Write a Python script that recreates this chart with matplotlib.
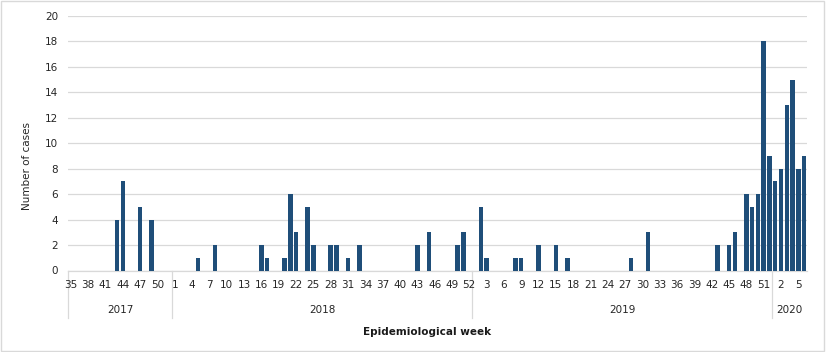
import matplotlib.pyplot as plt
from matplotlib.patches import Rectangle
from matplotlib.transforms import blended_transform_factory

# weekly case counts per year
weeks_2017 = list(range(35, 53))
cases_2017 = [0, 0, 0, 0, 0, 0, 0, 0, 4, 7, 0, 0, 5, 0, 4, 0, 0, 0]

weeks_2018 = list(range(1, 53))
cases_2018 = [0, 0, 0, 0, 1, 0, 0, 2, 0, 0, 0, 0, 0, 0, 0, 2, 1, 0, 0, 1,
              6, 3, 0, 5, 2, 0, 0, 2, 2, 0, 1, 0, 2, 0, 0, 0, 0, 0, 0, 0,
              0, 0, 2, 0, 3, 0, 0, 0, 0, 2, 3, 0]

weeks_2019 = list(range(1, 53))
cases_2019 = [0, 5, 1, 0, 0, 0, 0, 1, 1, 0, 0, 2, 0, 0, 2, 0, 1, 0, 0, 0,
              0, 0, 0, 0, 0, 0, 0, 1, 0, 0, 3, 0, 0, 0, 0, 0, 0, 0, 0, 0,
              0, 0, 2, 0, 2, 3, 0, 6, 5, 6, 18, 9]

weeks_2020 = list(range(1, 7))
cases_2020 = [7, 8, 13, 15, 8, 9]

years = ['2017', '2018', '2019', '2020']
groups = [(weeks_2017, cases_2017), (weeks_2018, cases_2018),
          (weeks_2019, cases_2019), (weeks_2020, cases_2020)]

weeks = []
cases = []
for w, c in groups:
    weeks += w
    cases += c
x = list(range(len(weeks)))

plt.rcParams['font.family'] = ['DejaVu Sans']
txt_color = '#262626'
grid_color = '#d9d9d9'

fig = plt.figure(figsize=(8.26, 3.52), dpi=100)
ax = fig.add_axes([68 / 826, 1 - 270.5 / 352, 739 / 826, 254.5 / 352])

ax.bar(x, cases, width=0.78, color='#1f4e79', zorder=3)

ax.set_xlim(-0.5, len(weeks) - 0.5)
ax.set_ylim(0, 20)
ax.set_yticks(range(0, 21, 2))
ax.yaxis.grid(True, color=grid_color, linewidth=0.9, zorder=0)
ax.tick_params(axis='y', length=0, pad=7, labelsize=7.5, labelcolor=txt_color)
for s in ['top', 'right', 'left']:
    ax.spines[s].set_visible(False)
ax.spines['bottom'].set_color(grid_color)
ax.spines['bottom'].set_linewidth(0.9)

# week labels every third week
ax.set_xticks([])
trans = blended_transform_factory(ax.transData, ax.transAxes)
for i in x[::3]:
    ax.text(i, -0.057, str(weeks[i]), transform=trans, ha='center', va='center',
            fontsize=7.5, color=txt_color)

# year groups and separators
start = 0
for yr, (w, c) in zip(years, groups):
    end = start + len(w)
    ax.text((start + end - 1) / 2, -0.155, yr, transform=trans, ha='center',
            va='center', fontsize=7.5, color=txt_color)
    ax.plot([start - 0.5, start - 0.5], [0, -0.187], transform=trans,
            color=grid_color, linewidth=0.9, clip_on=False)
    start = end

fig.text(27 / 826, 1 - 166 / 352, 'Number of cases', rotation=90, ha='center',
         va='center', fontsize=7.5, color=txt_color)
fig.text(427 / 826, 1 - 332 / 352, 'Epidemiological week', ha='center',
         va='center', fontsize=7.5, color='#1a1a1a', fontweight='semibold')

fig.patches.append(Rectangle((0.001, 0.002), 0.997, 0.995, transform=fig.transFigure,
                             fill=False, edgecolor=grid_color, linewidth=1))

fig.savefig('out.png', dpi=100)
